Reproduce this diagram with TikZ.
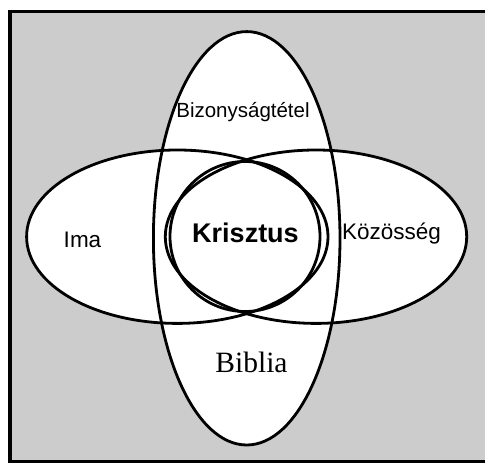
\documentclass[tikz,border=0pt]{standalone}
\usepackage{fontspec}
\setmainfont{Liberation Sans}
\newfontfamily\timesfont{Liberation Serif}
\usepackage{tikz}
\usetikzlibrary{shapes.geometric}

\begin{document}
\begin{tikzpicture}[x=1pt, y=-1pt]
        \tikzstyle{oval} = [ellipse, inner sep=0pt, line width=2.8pt]
        \tikzstyle{fekvo} = [oval, minimum width=301.4pt, minimum height=173.4pt]
        \tikzstyle{allo} = [oval, minimum width=186.6pt, minimum height=413.4pt]
        \tikzstyle{kor} = [circle, inner sep=0pt, line width=2.8pt, minimum size=150pt]
        \tikzstyle{felirat} = [inner sep=0pt, anchor=base]

        \useasboundingbox (0,0) rectangle (485,463);
        \draw [fill=gray!40, line width=3.5pt] (10,11.5) rectangle (492,461.5);

        % feher kitoltes
        \node [fekvo, fill=white] (ima_bg) at (177.3,236.7) {};
        \node [fekvo, fill=white] (kozosseg_bg) at (316,236.7) {};
        \node [allo, fill=white] (tanu_bg) at (246.7,238.3) {};
        \node [kor, fill=white] (krisztus_bg) at (245,236.5) {};

        % korvonalak
        \node [fekvo, draw] (ima) at (ima_bg.center) {};
        \node [fekvo, draw] (kozosseg) at (kozosseg_bg.center) {};
        \node [allo, draw] (tanu) at (tanu_bg.center) {};
        \node [kor, draw] (krisztus) at (krisztus_bg.center) {};

        \node [felirat, font=\fontsize{20.5}{24}\selectfont] (bizony_txt) at (243,117) {Bizonyságtétel};
        \node [felirat, font=\fontsize{22.5}{27}\selectfont] (ima_txt) at (82.5,247) {Ima};
        \node [felirat, font=\fontsize{22.5}{27}\selectfont] (kozosseg_txt) at (391.5,239) {Közösség};
        \node [felirat, font=\fontsize{27}{32}\selectfont\bfseries] (krisztus_txt) at (245.5,242) {Krisztus};
        \node [felirat, font=\fontsize{29.5}{35}\selectfont\timesfont] (biblia_txt) at (251.5,372.7) {Biblia};
    \end{tikzpicture}
\end{document}
